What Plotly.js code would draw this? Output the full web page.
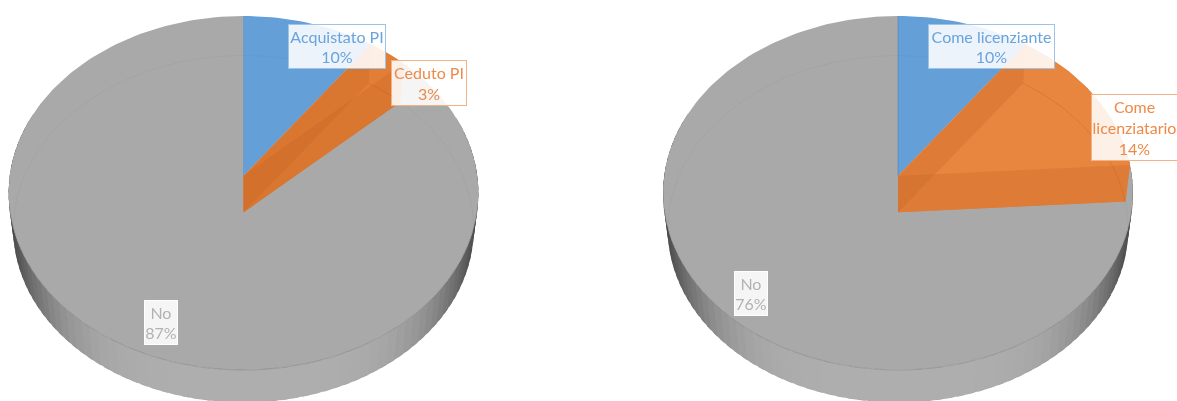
<!DOCTYPE html>
<html>
<head>
<meta charset="utf-8">
<script src="https://cdn.plot.ly/plotly-3.0.1.min.js"></script>
<style>html,body{margin:0;padding:0;background:#fff;overflow:hidden}#chart{width:1177px;height:401px;filter:blur(0.45px)}</style>
</head>
<body>
<div id="chart"></div>
<script>
// Data
const leftLabels = ["Acquistato PI", "Ceduto PI", "No"];
const leftValues = [10, 3, 87];
const rightLabels = ["Come licenziante", "Come<br>licenziatario", "No"];
const rightValues = [10, 14, 76];
const sliceColors = ["#659FD8", "#E8853F", "#A9A9A9"];
const labelColors = ["#69A4DC", "#EE8A49", "#B2B2B2"];
const borderColors = ["#9CC3E8", "#F4B183", "#FFFFFF"];

// Projection of the tilted disc
const RX = 235, RY = 177, MID = 193, APEX = 17, K = 0.096, DROP = 36, SHRINK = 0.98;
function pt(cx, deg, r, low) {
  const a = deg * Math.PI / 180, u = r * Math.sin(a), v = r * Math.cos(a);
  const w = 1 + K * v;
  const X = 0.995 * RX * u / w, Y = (RY * v + APEX) / w;
  const s = low ? SHRINK : 1;
  return [cx + s * X, MID - s * Y + (low ? DROP : 0)];
}
function arc(cx, a0, a1, low) {
  const out = [], n = Math.max(2, Math.ceil(Math.abs(a1 - a0) / 1.5));
  for (let i = 0; i <= n; i++) out.push(pt(cx, a0 + (a1 - a0) * i / n, 1, low));
  return out;
}
const traces = [];
function poly(points, fill) {
  traces.push({
    type: "scatter", mode: "lines", hoverinfo: "skip", showlegend: false, fill: "toself",
    x: points.map(p => p[0]).concat([points[0][0]]),
    y: points.map(p => p[1]).concat([points[0][1]]),
    fillcolor: fill, line: {color: "rgba(0,0,0,0)", width: 0}
  });
}
function stroke(points, color, width) {
  traces.push({
    type: "scatter", mode: "lines", hoverinfo: "skip", showlegend: false,
    x: points.map(p => p[0]), y: points.map(p => p[1]),
    line: {color: color, width: width}
  });
}
function drawPie(cx, values, orange) {
  const total = values.reduce((a, b) => a + b, 0);
  // outer wall shaded by how far it turns away; each strip overlaps the next
  const step = 2.5;
  for (let d = 70; d < 290; d += step) {
    const mid = pt(cx, d + step / 2, 1, false);
    const s = Math.min(1, Math.abs(mid[0] - cx) / RX);
    const c = Math.round(174 - 105 * Math.pow(s, 5));
    const col = "rgb(" + c + "," + c + "," + c + ")";
    const e = d + step + 1.5;
    poly([pt(cx, d, 1, false), pt(cx, e, 1, false), pt(cx, e, 1, true), pt(cx, d, 1, true)], col);
  }
  let start = 0;
  const spans = values.map(v => { const s = [start, start + v / total * 360]; start = s[1]; return s; });
  const apexTop = pt(cx, 0, 0, false), apexLow = pt(cx, 0, 0, true);
  // gray slice
  poly([apexTop].concat(arc(cx, spans[2][0], spans[2][1], false)), sliceColors[2]);
  // blue slice
  poly([apexTop].concat(arc(cx, spans[0][0], spans[0][1], false)), sliceColors[0]);
  stroke(arc(cx, 0, 360, true), "rgba(0,0,0,0.03)", 1);
  stroke(arc(cx, 100, 260, false), "rgba(110,110,110,0.5)", 0.8);
  // orange slice: top face, bottom face, inner walls
  const a0 = spans[1][0], a1 = spans[1][1];
  const wallA = [apexTop, pt(cx, a0, 1, false), pt(cx, a0, 1, true), apexLow];
  const wallB = [apexTop, pt(cx, a1, 1, false), pt(cx, a1, 1, true), apexLow];
  poly(wallA, orange);
  poly(wallB, orange);
  poly([apexLow].concat(arc(cx, a0, a1, true)), orange);
  poly([apexTop].concat(arc(cx, a0, a1, false)), orange);
  poly(arc(cx, a0, a1, false).concat(arc(cx, a1, a0, true)), orange);
  const wall = "rgba(190,95,30,0.25)";
  poly(wallA, wall);
  poly(wallB, wall);
  stroke(arc(cx, a0, a1, true), "rgba(170,85,30,0.3)", 0.8);
  stroke([pt(cx, 0, 0, false), pt(cx, 0, 1, false)], "rgba(70,120,180,0.6)", 0.8);
}
drawPie(243.5, leftValues, "#E27E36");
drawPie(898, rightValues, "#E8853F");

function tag(x, y, w, h, label, val, i) {
  return {
    xref: "x", yref: "y", x: x, y: y, xanchor: "center", yanchor: "middle", showarrow: false,
    text: label + "<br>" + val + "%", width: w, height: h, align: "center", valign: "middle",
    bgcolor: "rgba(255,255,255,0.88)", bordercolor: borderColors[i],
    borderwidth: 1, borderpad: 0,
    font: {family: "Lato, 'Open Sans', sans-serif", size: 16, color: labelColors[i]}
  };
}
const annotations = [
  tag(337, 46.5, 96, 43, leftLabels[0], leftValues[0], 0),
  tag(429, 83, 74, 44, leftLabels[1], leftValues[1], 1),
  tag(161, 322, 32, 43, leftLabels[2], leftValues[2], 2),
  tag(991.5, 46.5, 125, 43, rightLabels[0], rightValues[0], 0),
  tag(1134.5, 127, 85, 65, rightLabels[1], rightValues[1], 1),
  tag(751, 293, 32, 43, rightLabels[2], rightValues[2], 2)
];

Plotly.newPlot("chart", traces, {
  width: 1177, height: 401,
  margin: {l: 0, r: 0, t: 0, b: 0},
  paper_bgcolor: "#fff", plot_bgcolor: "#fff", showlegend: false,
  xaxis: {range: [0, 1177], visible: false, fixedrange: true},
  yaxis: {range: [401, 0], visible: false, fixedrange: true},
  annotations: annotations
}, {staticPlot: true, displayModeBar: false});
</script>
</body>
</html>
